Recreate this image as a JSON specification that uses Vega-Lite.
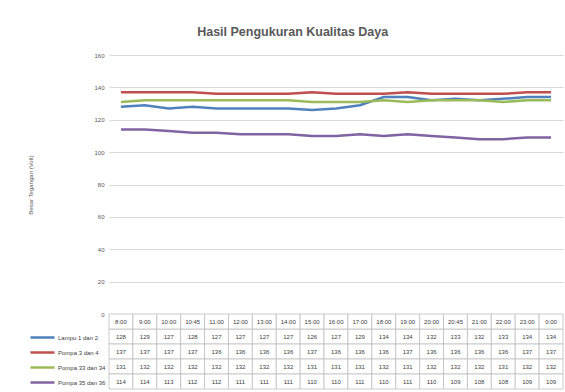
{
  "$schema": "https://vega.github.io/schema/vega-lite/v6.json",
  "background": "white",
  "padding": {"left": 27, "top": 25, "right": 0, "bottom": 0},
  "config": {"view": {"stroke": null}, "font": "Liberation Sans"},
  "title": {"text": "Hasil Pengukuran Kualitas Daya", "fontSize": 12.5, "font": "Liberation Sans", "fontWeight": "bold", "color": "#595959", "anchor": "middle", "dx": -3, "offset": 14},
  "datasets": {
    "d": [
      {"t":"8:00","s":"Lampu 1 dan 2","v":128},{"t":"9:00","s":"Lampu 1 dan 2","v":129},{"t":"10:00","s":"Lampu 1 dan 2","v":127},{"t":"10:45","s":"Lampu 1 dan 2","v":128},{"t":"11:00","s":"Lampu 1 dan 2","v":127},{"t":"12:00","s":"Lampu 1 dan 2","v":127},{"t":"13:00","s":"Lampu 1 dan 2","v":127},{"t":"14:00","s":"Lampu 1 dan 2","v":127},{"t":"15:00","s":"Lampu 1 dan 2","v":126},{"t":"16:00","s":"Lampu 1 dan 2","v":127},{"t":"17:00","s":"Lampu 1 dan 2","v":129},{"t":"18:00","s":"Lampu 1 dan 2","v":134},{"t":"19:00","s":"Lampu 1 dan 2","v":134},{"t":"20:00","s":"Lampu 1 dan 2","v":132},{"t":"20:45","s":"Lampu 1 dan 2","v":133},{"t":"21:00","s":"Lampu 1 dan 2","v":132},{"t":"22:00","s":"Lampu 1 dan 2","v":133},{"t":"23:00","s":"Lampu 1 dan 2","v":134},{"t":"0:00","s":"Lampu 1 dan 2","v":134},
      {"t":"8:00","s":"Pompa 3 dan 4","v":137},{"t":"9:00","s":"Pompa 3 dan 4","v":137},{"t":"10:00","s":"Pompa 3 dan 4","v":137},{"t":"10:45","s":"Pompa 3 dan 4","v":137},{"t":"11:00","s":"Pompa 3 dan 4","v":136},{"t":"12:00","s":"Pompa 3 dan 4","v":136},{"t":"13:00","s":"Pompa 3 dan 4","v":136},{"t":"14:00","s":"Pompa 3 dan 4","v":136},{"t":"15:00","s":"Pompa 3 dan 4","v":137},{"t":"16:00","s":"Pompa 3 dan 4","v":136},{"t":"17:00","s":"Pompa 3 dan 4","v":136},{"t":"18:00","s":"Pompa 3 dan 4","v":136},{"t":"19:00","s":"Pompa 3 dan 4","v":137},{"t":"20:00","s":"Pompa 3 dan 4","v":136},{"t":"20:45","s":"Pompa 3 dan 4","v":136},{"t":"21:00","s":"Pompa 3 dan 4","v":136},{"t":"22:00","s":"Pompa 3 dan 4","v":136},{"t":"23:00","s":"Pompa 3 dan 4","v":137},{"t":"0:00","s":"Pompa 3 dan 4","v":137},
      {"t":"8:00","s":"Pompa 33 dan 34","v":131},{"t":"9:00","s":"Pompa 33 dan 34","v":132},{"t":"10:00","s":"Pompa 33 dan 34","v":132},{"t":"10:45","s":"Pompa 33 dan 34","v":132},{"t":"11:00","s":"Pompa 33 dan 34","v":132},{"t":"12:00","s":"Pompa 33 dan 34","v":132},{"t":"13:00","s":"Pompa 33 dan 34","v":132},{"t":"14:00","s":"Pompa 33 dan 34","v":132},{"t":"15:00","s":"Pompa 33 dan 34","v":131},{"t":"16:00","s":"Pompa 33 dan 34","v":131},{"t":"17:00","s":"Pompa 33 dan 34","v":131},{"t":"18:00","s":"Pompa 33 dan 34","v":132},{"t":"19:00","s":"Pompa 33 dan 34","v":131},{"t":"20:00","s":"Pompa 33 dan 34","v":132},{"t":"20:45","s":"Pompa 33 dan 34","v":132},{"t":"21:00","s":"Pompa 33 dan 34","v":132},{"t":"22:00","s":"Pompa 33 dan 34","v":131},{"t":"23:00","s":"Pompa 33 dan 34","v":132},{"t":"0:00","s":"Pompa 33 dan 34","v":132},
      {"t":"8:00","s":"Pompa 35 dan 36","v":114},{"t":"9:00","s":"Pompa 35 dan 36","v":114},{"t":"10:00","s":"Pompa 35 dan 36","v":113},{"t":"10:45","s":"Pompa 35 dan 36","v":112},{"t":"11:00","s":"Pompa 35 dan 36","v":112},{"t":"12:00","s":"Pompa 35 dan 36","v":111},{"t":"13:00","s":"Pompa 35 dan 36","v":111},{"t":"14:00","s":"Pompa 35 dan 36","v":111},{"t":"15:00","s":"Pompa 35 dan 36","v":110},{"t":"16:00","s":"Pompa 35 dan 36","v":110},{"t":"17:00","s":"Pompa 35 dan 36","v":111},{"t":"18:00","s":"Pompa 35 dan 36","v":110},{"t":"19:00","s":"Pompa 35 dan 36","v":111},{"t":"20:00","s":"Pompa 35 dan 36","v":110},{"t":"20:45","s":"Pompa 35 dan 36","v":109},{"t":"21:00","s":"Pompa 35 dan 36","v":108},{"t":"22:00","s":"Pompa 35 dan 36","v":108},{"t":"23:00","s":"Pompa 35 dan 36","v":109},{"t":"0:00","s":"Pompa 35 dan 36","v":109}
    ]
  },
  "data": {"name": "d"},
  "spacing": 0,
  "bounds": "flush",
  "resolve": {"scale": {"x": "independent", "y": "independent"}},
  "vconcat": [
    {
      "width": 454,
      "height": 259,
      "mark": {"type": "line", "strokeWidth": 2.5},
      "encoding": {
        "x": {"field": "t", "type": "ordinal", "scale": {"type": "point", "padding": 0.5, "domain": ["8:00","9:00","10:00","10:45","11:00","12:00","13:00","14:00","15:00","16:00","17:00","18:00","19:00","20:00","20:45","21:00","22:00","23:00","0:00"]}, "axis": null},
        "y": {"field": "v", "type": "quantitative", "scale": {"domain": [0, 160]},
          "axis": {"values": [0,20,40,60,80,100,120,140,160], "labelFontSize": 6, "labelColor": "#595959", "domain": false, "ticks": false, "labelPadding": 5, "gridColor": "#d9d9d9", "title": "Besar Tegangan (Volt)", "titleFontSize": 6, "titleFontWeight": "normal", "titleColor": "#595959", "titlePadding": 60}},
        "color": {"field": "s", "type": "nominal",
          "scale": {"domain": ["Lampu 1 dan 2","Pompa 3 dan 4","Pompa 33 dan 34","Pompa 35 dan 36"], "range": ["#4F81BD","#C0504D","#9BBB59","#8064A2"]},
          "legend": {"orient": "none", "legendX": -80, "legendY": 275, "title": null, "symbolType": "stroke", "symbolSize": 576, "symbolStrokeWidth": 2.5, "rowPadding": 0, "clipHeight": 15, "labelFontSize": 6, "labelColor": "#404040", "labelOffset": 2}}
      }
    },
    {
      "width": 454,
      "height": 75,
      "encoding": {
        "x": {"field": "t", "type": "ordinal", "scale": {"type": "band", "paddingInner": 0, "paddingOuter": 0, "domain": ["8:00","9:00","10:00","10:45","11:00","12:00","13:00","14:00","15:00","16:00","17:00","18:00","19:00","20:00","20:45","21:00","22:00","23:00","0:00"]}, "axis": null}
      },
      "layer": [
        {"mark": {"type": "rect", "fill": "white", "stroke": "#bfbfbf", "strokeWidth": 0.8},
         "encoding": {"y": {"field": "s", "type": "nominal", "scale": {"domain": [" ","Lampu 1 dan 2","Pompa 3 dan 4","Pompa 33 dan 34","Pompa 35 dan 36"], "paddingInner": 0, "paddingOuter": 0}, "axis": null}}},
        {"transform": [{"filter": "datum.s == 'Lampu 1 dan 2'"}],
         "mark": {"type": "rect", "fill": "white", "stroke": "#bfbfbf", "strokeWidth": 0.8},
         "encoding": {"y": {"datum": " ", "type": "nominal"}}},
        {"mark": {"type": "text", "fontSize": 6, "color": "#404040"},
         "encoding": {"y": {"field": "s", "type": "nominal"}, "text": {"field": "v"}}},
        {"transform": [{"filter": "datum.s == 'Lampu 1 dan 2'"}],
         "mark": {"type": "text", "fontSize": 6, "color": "#404040"},
         "encoding": {"y": {"datum": " ", "type": "nominal"}, "text": {"field": "t"}}}
      ]
    }
  ]
}
